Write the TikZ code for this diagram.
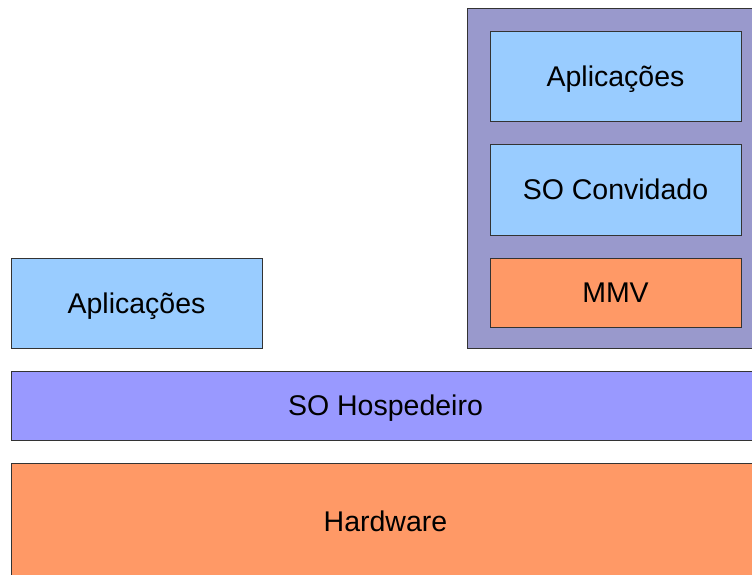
\documentclass[tikz,border=0pt]{standalone}
\usepackage{fontspec}
\setmainfont{Liberation Sans}

\begin{document}
\begin{tikzpicture}[x=1pt,y=-1pt]
\tikzset{
  layer/.style={rectangle,draw=black!80,line width=1pt,inner sep=0pt,
    text height=20pt,text depth=0pt,font=\fontsize{28.5}{30}\selectfont},
  appbox/.style={layer,fill=appblue},
  orangebox/.style={layer,fill=hworange}
}
\definecolor{appblue}{HTML}{99CCFF}
\definecolor{vmpurple}{HTML}{9999CC}
\definecolor{hostblue}{HTML}{9999FF}
\definecolor{hworange}{HTML}{FF9966}
\useasboundingbox (0,0) rectangle (752,574);
% maquina virtual
\node[layer,fill=vmpurple,minimum width=293pt,minimum height=340pt] (n_vm) at (613.5,178) {};
\node[appbox,minimum width=251pt,minimum height=90pt] (n_app2) at (615.5,76) {Aplicações};
\node[appbox,minimum width=251pt,minimum height=91pt] (n_guest) at (615.5,189.5) {SO Convidado};
\node[orangebox,minimum width=251pt,minimum height=69pt] (n_mmv) at (615.5,292.5) {MMV};
% lado do hospedeiro
\node[appbox,minimum width=251pt,minimum height=90pt] (n_app1) at (136.5,303) {Aplicações};
\node[layer,fill=hostblue,minimum width=749pt,minimum height=69pt] (n_host) at (385.5,405.5) {SO Hospedeiro};
\node[orangebox,minimum width=749pt,minimum height=116pt] (n_hw) at (385.5,521) {Hardware};
\end{tikzpicture}
\end{document}
